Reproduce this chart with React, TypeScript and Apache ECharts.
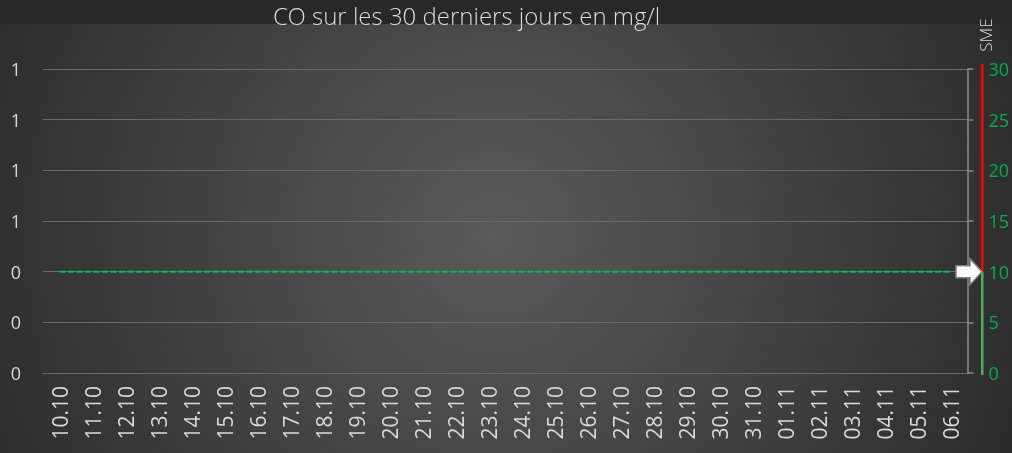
import React, { useEffect, useRef } from 'react';
import * as echarts from 'echarts';

const titleText = 'CO sur les 30 derniers jours en mg/l';
const categories = [
  '10.10', '11.10', '12.10', '13.10', '14.10', '15.10', '16.10', '17.10', '18.10', '19.10',
  '20.10', '21.10', '22.10', '23.10', '24.10', '25.10', '26.10', '27.10', '28.10', '29.10',
  '30.10', '31.10', '01.11', '02.11', '03.11', '04.11', '05.11', '06.11',
];
const smeValues = [
  10, 10, 10, 10, 10, 10, 10, 10, 10, 10,
  10, 10, 10, 10, 10, 10, 10, 10, 10, 10,
  10, 10, 10, 10, 10, 10, 10, 10,
];
const limitName = 'SME';
const limitValue = 10;
const leftMin = 0;
const leftMax = 1.2;
const leftInterval = 0.2;
const rightMin = 0;
const rightMax = 30;
const rightInterval = 5;

const W = 1012;
const H = 453;
const GRID_LEFT = 43;
const GRID_RIGHT = 41;
const GRID_TOP = 69;
const GRID_BOTTOM = 80;
const FONT = '"Open Sans", "Noto Sans", sans-serif';
const LIGHT_FONT = '"Open Sans Light", "Lato Light", "Open Sans", sans-serif';

export default function App() {
  const ref = useRef<HTMLDivElement>(null);
  useEffect(() => {
    if (!ref.current) return;
    const chart = echarts.init(ref.current, undefined, { renderer: 'svg' });
    const option: any = {
      animation: false,
      backgroundColor: new echarts.graphic.RadialGradient(495, 235, 600, [
        { offset: 0, color: '#5a5a5a' },
        { offset: 1, color: '#282828' },
      ], true),
      title: {
        text: titleText,
        left: 268,
        top: -2,
        textStyle: { fontFamily: LIGHT_FONT, fontWeight: 300, fontSize: 24, color: '#dcdcdc' },
      },
      grid: { left: GRID_LEFT, right: GRID_RIGHT, top: GRID_TOP, bottom: GRID_BOTTOM, containLabel: false },
      xAxis: {
        type: 'category',
        data: categories,
        boundaryGap: true,
        axisLine: { show: true, lineStyle: { color: '#6a6a6a', width: 1 } },
        axisTick: { show: false },
        axisLabel: {
          interval: 0,
          rotate: 90,
          margin: 13,
          color: '#d9d9d9',
          fontFamily: FONT,
          fontSize: 21,
        },
      },
      yAxis: [
        {
          type: 'value',
          min: leftMin,
          max: leftMax,
          interval: leftInterval,
          position: 'left',
          axisLine: { show: false },
          axisTick: { show: false },
          splitLine: { show: true, lineStyle: { color: '#6a6a6a', width: 1 } },
          axisLabel: {
            margin: 22,
            color: '#d9d9d9',
            fontFamily: FONT,
            fontSize: 18,
            formatter: (v: number) => String(Math.round(v)),
          },
        },
        {
          type: 'value',
          min: rightMin,
          max: rightMax,
          interval: rightInterval,
          position: 'right',
          axisLine: { show: true, lineStyle: { color: '#8c8c8c', width: 1.5 } },
          axisTick: { show: true, length: 6, lineStyle: { color: '#8c8c8c', width: 1.5 } },
          splitLine: { show: false },
          axisLabel: {
            margin: 21,
            color: '#00b050',
            fontFamily: FONT,
            fontSize: 18,
          },
        },
      ],
      series: [
        {
          name: limitName,
          type: 'line',
          yAxisIndex: 1,
          data: smeValues,
          symbol: 'none',
          lineStyle: { color: '#00c050', width: 2, type: [6, 2.5], cap: 'butt' },
          z: 3,
        },
      ],
    };
    chart.setOption(option);

    const axisX = W - GRID_RIGHT;
    const yLimit = chart.convertToPixel({ yAxisIndex: 1 }, limitValue) as number;
    const yTop = chart.convertToPixel({ yAxisIndex: 1 }, rightMax) as number;
    const yZero = chart.convertToPixel({ yAxisIndex: 1 }, rightMin) as number;
    const barX = axisX + 10;
    const tipX = barX + 1;

    chart.setOption({
      graphic: [
        {
          type: 'rect',
          z: -10,
          silent: true,
          shape: { x: 0, y: 0, width: W, height: 24 },
          style: { fill: '#282828' },
        },
        {
          type: 'rect',
          z: 10,
          shape: { x: barX, y: yTop - 5, width: 2.5, height: yLimit - (yTop - 5) },
          style: { fill: '#ff0000' },
        },
        {
          type: 'rect',
          z: 10,
          shape: { x: barX, y: yLimit, width: 2.5, height: yZero + 2 - yLimit },
          style: { fill: '#4caf50' },
        },
        {
          type: 'polygon',
          z: 11,
          shape: {
            points: [
              [tipX - 26, yLimit - 6],
              [tipX - 12, yLimit - 6],
              [tipX - 12, yLimit - 13],
              [tipX, yLimit],
              [tipX - 12, yLimit + 13],
              [tipX - 12, yLimit + 6],
              [tipX - 26, yLimit + 6],
            ],
          },
          style: { fill: '#ffffff', stroke: '#808080', lineWidth: 1.5 },
        },
        {
          type: 'text',
          z: 11,
          x: axisX + 14,
          y: 35,
          rotation: Math.PI / 2,
          style: {
            text: limitName,
            fill: '#d9d9d9',
            font: `300 17px ${LIGHT_FONT}`,
            align: 'center',
            verticalAlign: 'middle',
          },
        },
      ],
    });

    return () => chart.dispose();
  }, []);
  return <div ref={ref} style={{ position: 'fixed', left: 0, top: 0, width: W, height: H }} />;
}
